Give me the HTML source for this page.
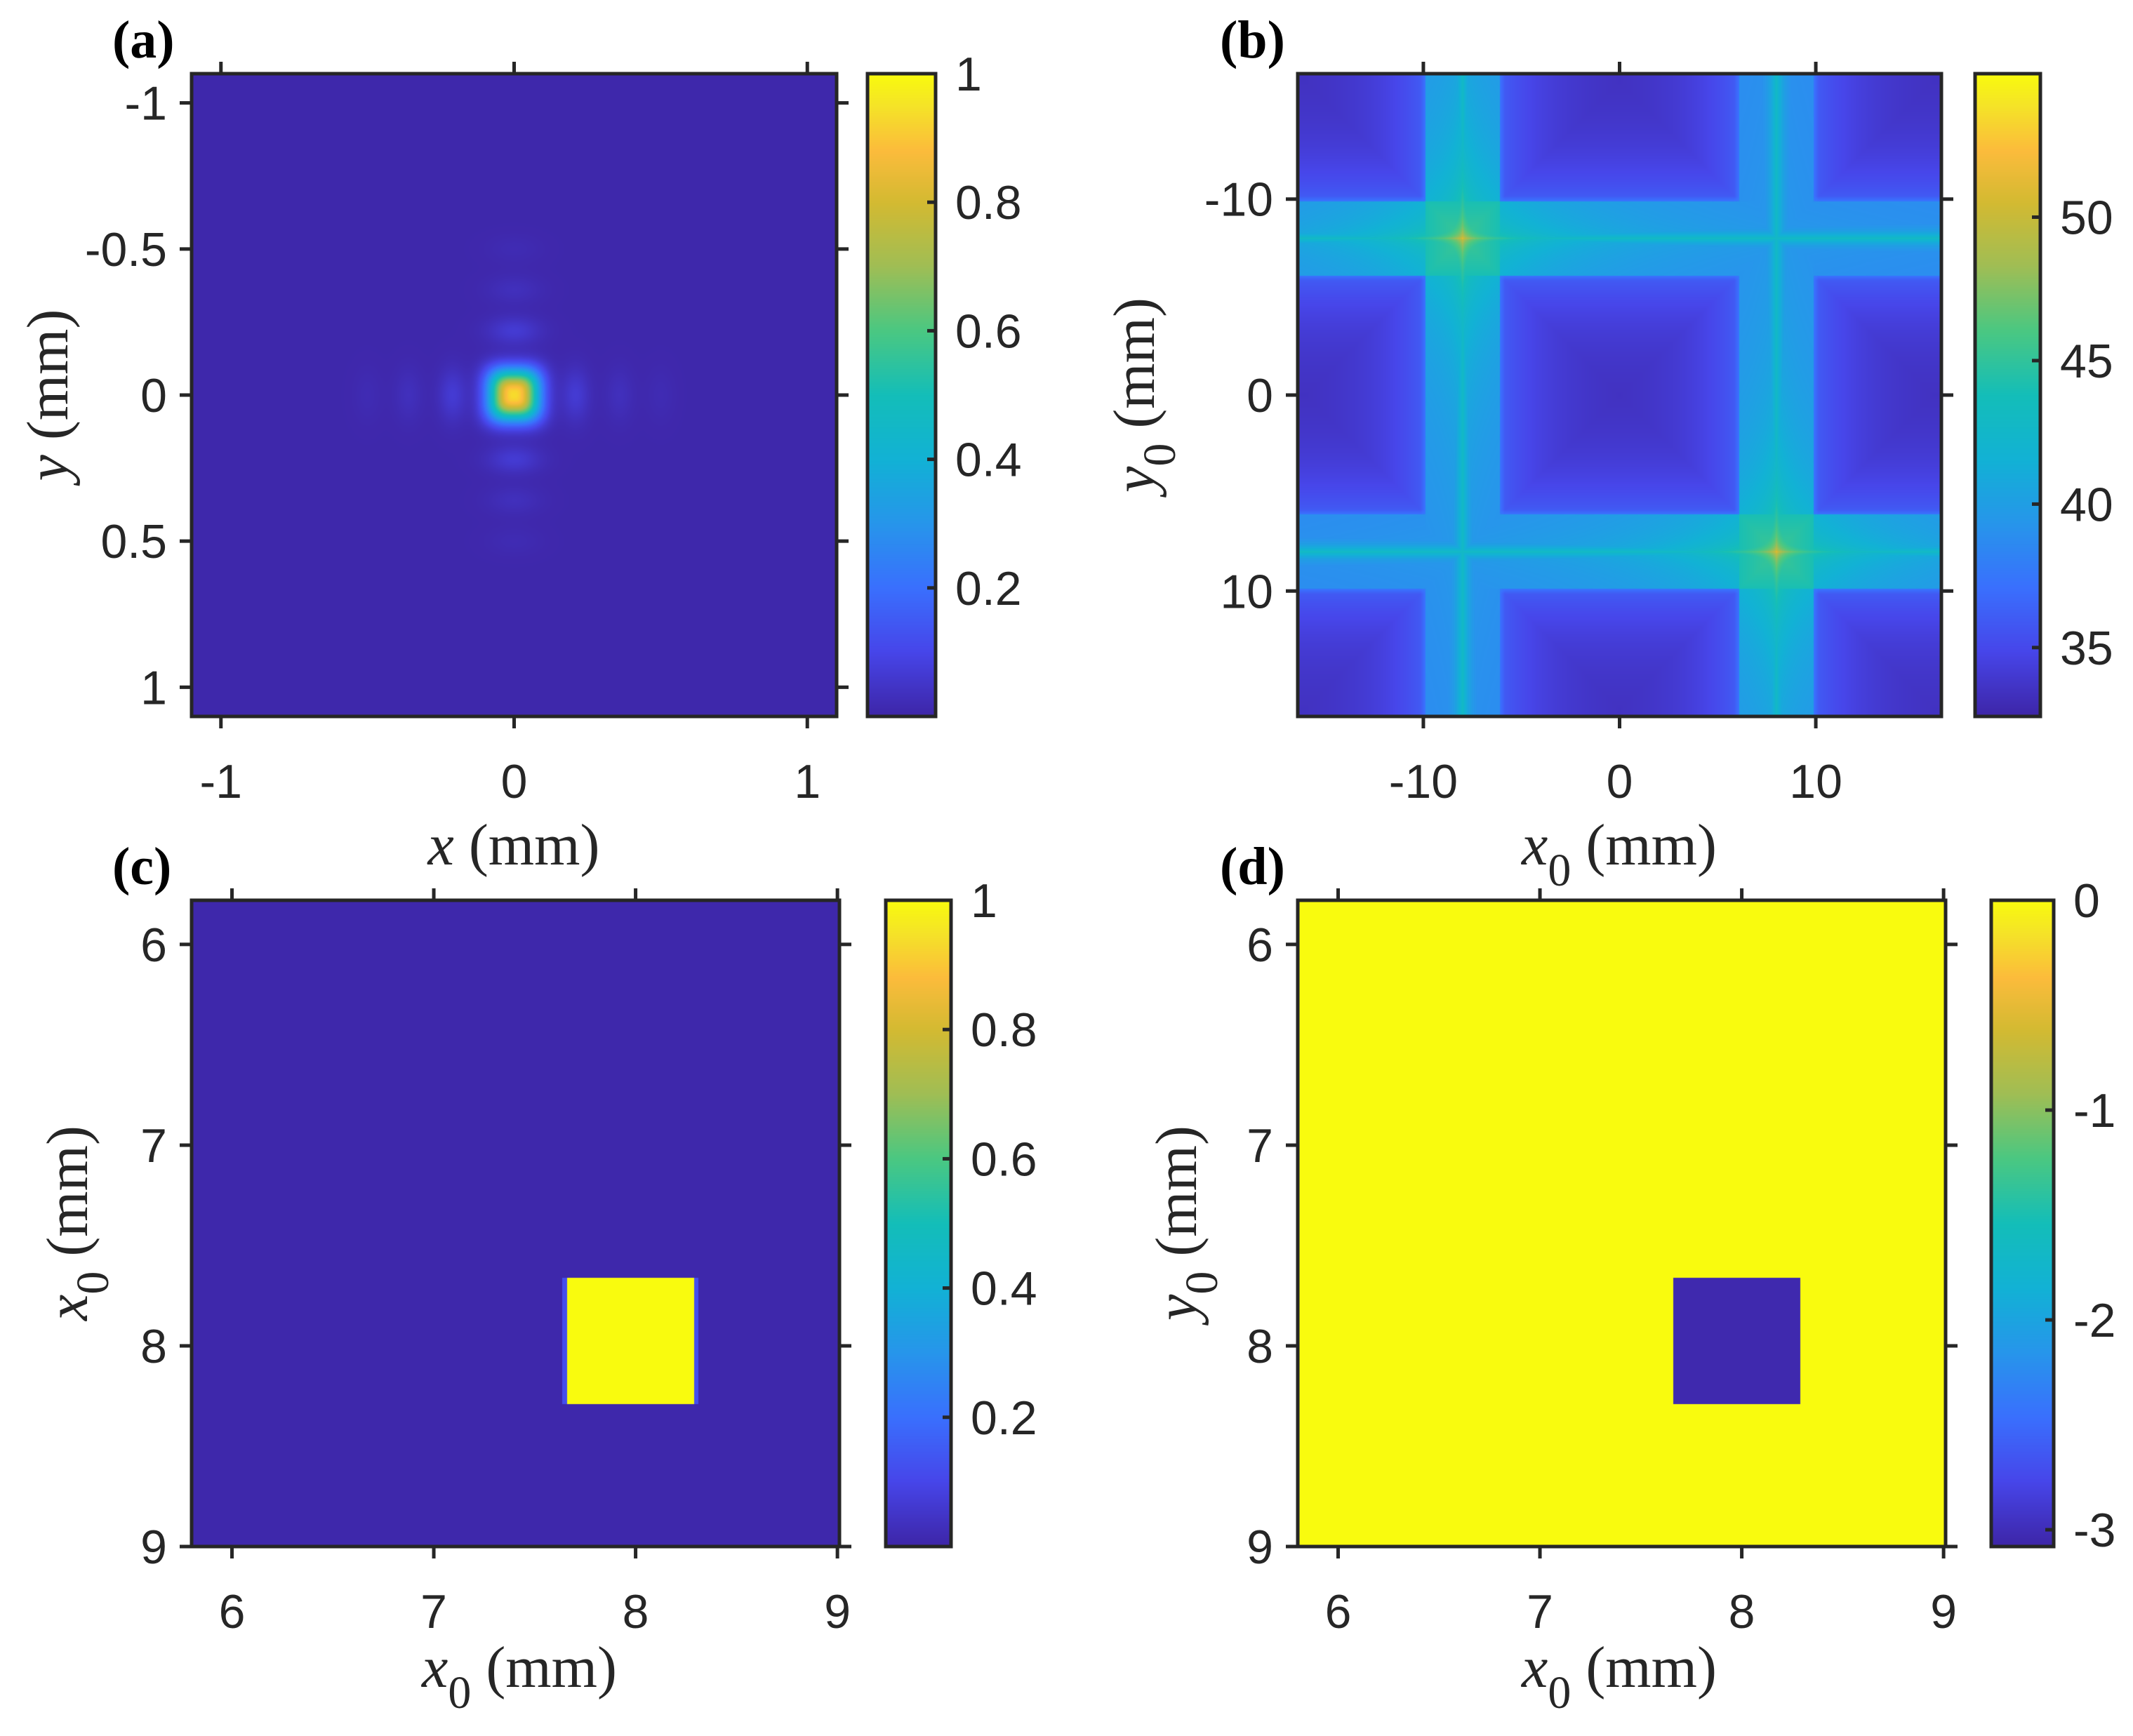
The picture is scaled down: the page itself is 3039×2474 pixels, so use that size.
<!DOCTYPE html>
<html><head><meta charset="utf-8">
<style>
html,body{margin:0;padding:0;background:#fff;}
#wrap{position:relative;width:3039px;height:2474px;overflow:hidden;}
canvas{position:absolute;}
svg{position:absolute;left:0;top:0;}
</style></head>
<body>
<div id="wrap">
<canvas id="ca"></canvas>
<canvas id="cb"></canvas>
<canvas id="cc"></canvas>
<canvas id="cd"></canvas>
<canvas id="cba"></canvas>
<canvas id="cbb"></canvas>
<canvas id="cbc"></canvas>
<canvas id="cbd"></canvas>
<svg id="ov" width="3039" height="2474" xmlns="http://www.w3.org/2000/svg"></svg>
</div>
<script>
// ---------- data ----------
const aPeak = [0, 0, 0.93];
const aPeakWidth = 0.085;
const aLobesX = [-0.5, -0.36, -0.21, 0.21, 0.36, 0.5];
const aLobesXAmp = [0.012, 0.025, 0.06, 0.06, 0.025, 0.012];
const aLobesY = [-0.5, -0.36, -0.22, 0.22, 0.36, 0.5];
const aLobesYAmp = [0.012, 0.025, 0.06, 0.06, 0.025, 0.012];
const aTicksX = [-1, 0, 1];
const aTicksY = [-1, -0.5, 0, 0.5, 1];
const aCbTicks = [0.2, 0.4, 0.6, 0.8, 1];
const bBandCenters = [-8, 8];
const bBandHalfWidth = 1.9;
const bBandLevel = 38.3;
const bRidgeLevel = 43.0;
const bPeaks = [[-8, -8, 52.5], [8, 8, 52.5]];
const bPeakPlateau = 45.5;
const bBackground = [33.2, 36.2];
const bTicks = [-10, 0, 10];
const bCbTicks = [35, 40, 45, 50];
const cdSquare = [7.66, 8.29, 7.66, 8.29];
const cInside = 1, cOutside = 0.005;
const dInside = -3.05, dOutside = 0;
const cdTicks = [6, 7, 8, 9];
const cCbTicks = [0.2, 0.4, 0.6, 0.8, 1];
const dCbTicks = [-3, -2, -1, 0];
const cCbTickLabels = ['0.2', '0.4', '0.6', '0.8', '1'];

// ---------- parula ----------
const PAR = [[0,62,38,168],[0.1,71,70,234],[0.2,58,112,254],[0.3,39,150,235],[0.4,18,178,213],[0.5,20,190,185],[0.6,75,200,130],[0.7,160,190,85],[0.8,212,186,50],[0.88,252,188,60],[0.95,245,228,40],[1,249,251,14]];
function parula(t){t=Math.max(0,Math.min(1,t));for(let i=1;i<PAR.length;i++){if(t<=PAR[i][0]){const a=PAR[i-1],b=PAR[i];const f=(t-a[0])/(b[0]-a[0]);return [a[1]+f*(b[1]-a[1]),a[2]+f*(b[2]-a[2]),a[3]+f*(b[3]-a[3])];}}return PAR[PAR.length-1].slice(1);}

const NS='http://www.w3.org/2000/svg';
const ov=document.getElementById('ov');
function mk(tag,attrs,name,inter){const e=document.createElementNS(NS,tag);for(const k in attrs)e.setAttribute(k,attrs[k]);


ov.appendChild(e);return e;}

function lin(d0,d1,p0,p1){return v=>p0+(v-d0)/(d1-d0)*(p1-p0);}

function heat(id,box,xr,yr,fn,vmin,vmax){
  const c=document.getElementById(id);const w=box[2]-box[0],h=box[3]-box[1];
  c.width=w;c.height=h;c.style.left=box[0]+'px';c.style.top=box[1]+'px';
  const ctx=c.getContext('2d');const img=ctx.createImageData(w,h);
  for(let j=0;j<h;j++){const y=yr[0]+(j+0.5)/h*(yr[1]-yr[0]);
    for(let i=0;i<w;i++){const x=xr[0]+(i+0.5)/w*(xr[1]-xr[0]);
      const col=parula((fn(x,y)-vmin)/(vmax-vmin));const k=(j*w+i)*4;
      img.data[k]=col[0];img.data[k+1]=col[1];img.data[k+2]=col[2];img.data[k+3]=255;}}
  ctx.putImageData(img,0,0);
}
function cbar(id,box){
  const c=document.getElementById(id);const w=box[2]-box[0],h=box[3]-box[1];
  c.width=w;c.height=h;c.style.left=box[0]+'px';c.style.top=box[1]+'px';
  const ctx=c.getContext('2d');
  for(let j=0;j<h;j++){const col=parula(1-j/(h-1));ctx.fillStyle=`rgb(${col[0]|0},${col[1]|0},${col[2]|0})`;ctx.fillRect(0,j,w,1);}
}
const TXT='#262626';
function frame(box,name){mk('rect',{x:box[0],y:box[1],width:box[2]-box[0],height:box[3]-box[1],fill:'none',stroke:TXT,'stroke-width':5},name,false);}
function text(x,y,s,opt,name){const t=mk('text',Object.assign({x:x,y:y,fill:TXT,'font-family':'"Liberation Sans",sans-serif','font-size':68},opt),name,false);t.textContent=s;return t;}

function axes(p){
  const b=p.box;const sx=lin(p.xr[0],p.xr[1],b[0],b[2]);const sy=lin(p.yr[0],p.yr[1],b[1],b[3]);
  frame(b,p.n+'-axes-box');
  p.xt.forEach((v,i)=>{const x=sx(v);
    mk('line',{x1:x,y1:b[1],x2:x,y2:b[1]-17,stroke:TXT,'stroke-width':5},p.n+'-xtick-top',false);
    mk('line',{x1:x,y1:b[3],x2:x,y2:b[3]+17,stroke:TXT,'stroke-width':5},p.n+'-xtick',false);
    text(x,b[3]+116,p.xtl[i],{'text-anchor':'middle'},p.n+'-xtick-label');});
  p.yt.forEach((v,i)=>{const y=sy(v);
    mk('line',{x1:b[0],y1:y,x2:b[0]-17,y2:y,stroke:TXT,'stroke-width':5},p.n+'-ytick',false);
    mk('line',{x1:b[2],y1:y,x2:b[2]+17,y2:y,stroke:TXT,'stroke-width':5},p.n+'-ytick-right',false);
    text(b[0]-35,y+24,p.ytl[i],{'text-anchor':'end'},p.n+'-ytick-label');});
  const cb=p.cb;cbar(p.cbid,cb);frame(cb,p.n+'-colorbar-box');
  const sc=lin(p.cr[0],p.cr[1],cb[3],cb[1]);
  p.ct.forEach((v,i)=>{const y=sc(v);
    mk('line',{x1:cb[2],y1:y,x2:cb[2]-12,y2:y,stroke:TXT,'stroke-width':5},p.n+'-colorbar-tick',false);
    text(cb[2]+28,y+24,p.ctl[i],{},p.n+'-colorbar-label');});
  return [sx,sy];
}
function serifLabel(x,y,main,sub,rest,rot,name){
  const g=mk('text',{x:x,y:y,fill:TXT,'font-family':'"Liberation Serif",serif','font-size':84,'text-anchor':'middle',transform:rot?`rotate(-90 ${x} ${y})`:''},name,false);
  const t1=document.createElementNS(NS,'tspan');t1.setAttribute('font-style','italic');t1.textContent=main;g.appendChild(t1);
  if(sub){const t2=document.createElementNS(NS,'tspan');t2.setAttribute('dy','30');t2.setAttribute('font-size','66');t2.textContent=sub;g.appendChild(t2);
    const t3=document.createElementNS(NS,'tspan');t3.setAttribute('dy','-30');t3.textContent=' '+rest;g.appendChild(t3);}
  else{const t3=document.createElementNS(NS,'tspan');t3.textContent=' '+rest;g.appendChild(t3);}
}
function letter(x,y,s,name){const t=mk('text',{x:x,y:y,fill:'#000','font-family':'"Liberation Serif",serif','font-size':76,'font-weight':'bold'},name,false);t.textContent=s;}

// ---------- panel a ----------
const A={n:'panel-a',box:[273,105,1192,1021],xr:[-1.1,1.1],yr:[-1.1,1.1],xt:aTicksX,xtl:aTicksX.map(String),yt:aTicksY,ytl:aTicksY.map(String),cb:[1236,105,1333,1021],cbid:'cba',cr:[0,1],ct:aCbTicks,ctl:aCbTicks.map(String)};
const aBase=0.005;
heat('ca',A.box,A.xr,A.yr,(x,y)=>{
  const s=aPeakWidth;
  let v=aBase+aPeak[2]*Math.exp(-Math.pow(Math.pow(Math.abs(x-aPeak[0])/s,3)+Math.pow(Math.abs(y-aPeak[1])/s,3),0.8));
  aLobesX.forEach((lx,i)=>{v+=aLobesXAmp[i]*Math.exp(-((x-lx)*(x-lx))/0.0022-(y*y)/0.008);});
  aLobesY.forEach((ly,i)=>{v+=aLobesYAmp[i]*Math.exp(-((y-ly)*(y-ly))/0.0022-(x*x)/0.008);});
  return v;},0,1);
axes(A);
serifLabel(732,1232,'x','','(mm)',false,'panel-a-x-axis-title');
serifLabel(96,563,'y','','(mm)',true,'panel-a-y-axis-title');
letter(160,82,'(a)','panel-a-label');

// ---------- panel b ----------
const B={n:'panel-b',box:[1849,105,2766,1021],xr:[-16.4,16.4],yr:[-16.4,16.4],xt:bTicks,xtl:bTicks.map(String),yt:bTicks,ytl:bTicks.map(String),cb:[2814,105,2907,1021],cbid:'cbb',cr:[32.6,55],ct:bCbTicks,ctl:bCbTicks.map(String)};
heat('cb',B.box,B.xr,B.yr,(x,y)=>{
  const dx=Math.min(...bBandCenters.map(c=>Math.abs(x-c))),dy=Math.min(...bBandCenters.map(c=>Math.abs(y-c)));
  const dmin=Math.min(dx,dy);
  let v=bBackground[0]+(bBackground[1]-bBackground[0])*Math.exp(-Math.max(0,dmin-bBandHalfWidth)/2.5);
  const edge=t=>Math.min(1,Math.max(0,(bBandHalfWidth+0.25-t)/0.5));
  if(dx<bBandHalfWidth+0.25){const lv=bBandLevel+(bRidgeLevel-bBandLevel)*Math.exp(-dx/0.4);v=Math.max(v,v+(lv-v)*edge(dx));}
  if(dy<bBandHalfWidth+0.25){const lv=bBandLevel+(bRidgeLevel-bBandLevel)*Math.exp(-dy/0.4);v=Math.max(v,v+(lv-v)*edge(dy));}
  bPeaks.forEach(p=>{const ex=Math.abs(x-p[0]),ey=Math.abs(y-p[1]);
    if(ex<bBandHalfWidth&&ey<bBandHalfWidth)v=Math.max(v,bPeakPlateau-1.5*Math.max(ex,ey)/bBandHalfWidth);
    if(ex<bBandHalfWidth||ey<bBandHalfWidth)v=Math.max(v,bBandLevel+(p[2]-bBandLevel)*Math.exp(-(Math.sqrt(ex)+Math.sqrt(ey))/1.9));});
  return v;},32.6,55);
axes(B);
serifLabel(2307,1232,'x','0','(mm)',false,'panel-b-x-axis-title');
serifLabel(1644,563,'y','0','(mm)',true,'panel-b-y-axis-title');
letter(1738,82,'(b)','panel-b-label');

// ---------- panel c ----------
const C={n:'panel-c',box:[273,1283,1196,2204],xr:[5.8,9.01],yr:[5.78,9],xt:cdTicks,xtl:cdTicks.map(String),yt:cdTicks,ytl:cdTicks.map(String),cb:[1262,1283,1355,2204],cbid:'cbc',cr:[0,1],ct:cCbTicks,ctl:cCbTickLabels};
heat('cc',C.box,C.xr,C.yr,(x,y)=>{
  const inside=x>=cdSquare[0]&&x<=cdSquare[1]&&y>=cdSquare[2]&&y<=cdSquare[3];
  if(inside)return cInside;
  if(y>=cdSquare[2]&&y<=cdSquare[3]&&((x<cdSquare[0]&&x>cdSquare[0]-0.022)||(x>cdSquare[1]&&x<cdSquare[1]+0.022)))return 0.12;
  return cOutside;},0,1);
axes(C);
serifLabel(740,2404,'x','0','(mm)',false,'panel-c-x-axis-title');
serifLabel(124,1743,'x','0','(mm)',true,'panel-c-y-axis-title');
letter(160,1260,'(c)','panel-c-label');

// ---------- panel d ----------
const D={n:'panel-d',box:[1849,1283,2772,2204],xr:[5.8,9.01],yr:[5.78,9],xt:cdTicks,xtl:cdTicks.map(String),yt:cdTicks,ytl:cdTicks.map(String),cb:[2837,1283,2926,2204],cbid:'cbd',cr:[-3.08,0],ct:dCbTicks,ctl:dCbTicks.map(String)};
heat('cd',D.box,D.xr,D.yr,(x,y)=>{
  const inside=x>=cdSquare[0]&&x<=cdSquare[1]&&y>=cdSquare[2]&&y<=cdSquare[3];
  return inside?dInside:dOutside;},-3.08,0);
axes(D);
serifLabel(2307,2404,'x','0','(mm)',false,'panel-d-x-axis-title');
serifLabel(1704,1743,'y','0','(mm)',true,'panel-d-y-axis-title');
letter(1738,1260,'(d)','panel-d-label');
</script>
</body></html>
